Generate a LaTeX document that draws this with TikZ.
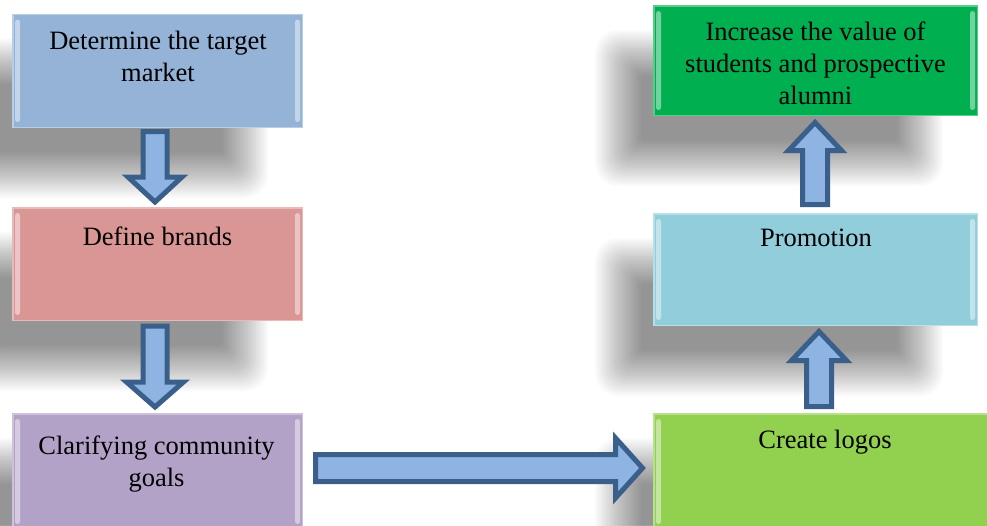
\documentclass[tikz,border=0pt]{standalone}
\usepackage{fontspec}
\setmainfont{Liberation Serif}
\usetikzlibrary{calc}
\pgfdeclarelayer{shadowlayer}
\pgfsetlayers{shadowlayer,main}
\definecolor{cBlue}{HTML}{95B3D7}
\definecolor{cRed}{HTML}{D99694}
\definecolor{cPurple}{HTML}{B3A2C7}
\definecolor{cGreen}{HTML}{00B050}
\definecolor{cAqua}{HTML}{92CDDC}
\definecolor{cLime}{HTML}{92D050}
\definecolor{arrowfill}{HTML}{8EB4E3}
\definecolor{arrowline}{HTML}{3A5F8B}
\tikzset{
  box/.style={draw=none, rectangle, anchor=north west, inner sep=0pt, outer sep=0pt},
  boxtext/.style={anchor=north, align=center, inner sep=0pt, outer sep=0pt, text=black,
    font=\fontsize{26.5}{32}\selectfont},
  barrow/.style={fill=arrowfill, draw=arrowline, line width=5pt, line join=miter, miter limit=10},
  bevelstrip/.style={fill=white, fill opacity=0.45, draw=none, rounded corners=2.5pt},
  rim/.style={draw=white, draw opacity=0.35, line width=1.5pt},
}
\newcommand{\softshadow}[1]{%
  \begin{pgfonlayer}{shadowlayer}
  \foreach \k in {0,...,23}{
    \pgfmathsetmacro{\dd}{23-2*\k}
    \pgfmathsetmacro{\rr}{max(3,12+0.5*\dd)}
    \fill[black, fill opacity=0.019, rounded corners=\rr pt]
      ($(#1.north west)+(-35-\dd,48-\dd)$) rectangle ($(#1.south east)+(-58+\dd,47+\dd)$);
  }
  \end{pgfonlayer}}
\newcommand{\bevel}[1]{%
  \fill[bevelstrip] ($(#1.north west)+(3,6)$) rectangle ($(#1.south west)+(8,-6)$);
  \fill[bevelstrip] ($(#1.north east)+(-8,6)$) rectangle ($(#1.south east)+(-3,-6)$);
  \draw[rim] ($(#1.north west)+(0.75,0.75)$) rectangle ($(#1.south east)+(-0.75,-0.75)$);}
% vertical block arrow: start, tip, shaft half width, head half width, head length (+ down, - up)
\newcommand{\varrow}[5]{%
  \pgfmathsetmacro{\hl}{-1*(#5)}
  \draw[barrow] ($(#1)+(-#3,0)$) -- ($(#2)+(-#3,\hl)$) -- ($(#2)+(-#4,\hl)$) -- (#2)
    -- ($(#2)+(#4,\hl)$) -- ($(#2)+(#3,\hl)$) -- ($(#1)+(#3,0)$) -- cycle;}
% horizontal block arrow pointing right
\newcommand{\harrow}[5]{%
  \draw[barrow] ($(#1)+(0,-#3)$) -- ($(#2)+(-#5,-#3)$) -- ($(#2)+(-#5,-#4)$) -- (#2)
    -- ($(#2)+(-#5,#4)$) -- ($(#2)+(-#5,#3)$) -- ($(#1)+(0,#3)$) -- cycle;}
\begin{document}
\begin{tikzpicture}[x=1pt,y=-1pt]
  \begin{pgfonlayer}{shadowlayer}
    \fill[white] (0,0) rectangle (987,525);
  \end{pgfonlayer}
  \useasboundingbox (0,0) rectangle (987,525);

  % boxes
  \node[box, fill=cBlue,   minimum width=291pt, minimum height=114.5pt] (b1) at (12,13.5) {};
  \node[box, fill=cRed,    minimum width=291pt, minimum height=114pt]   (b2) at (12,207) {};
  \node[box, fill=cPurple, minimum width=291pt, minimum height=117pt]   (b3) at (12,413) {};
  \node[box, fill=cGreen,  minimum width=325pt, minimum height=111pt]   (g)  at (653,5) {};
  \node[box, fill=cAqua,   minimum width=325pt, minimum height=113pt]   (p)  at (653,213) {};
  \node[box, fill=cLime,   minimum width=344pt, minimum height=117pt]   (c)  at (653,413) {};

  \foreach \n in {b1,b2,b3,g,p,c}{\softshadow{\n}\bevel{\n}}

  % texts
  \node[boxtext] (t1) at ($(b1.north)+(0.5,14)$) {\strut Determine the target\\market};
  \node[boxtext] (t2) at ($(b2.north)+(0,15.6)$) {\strut Define brands};
  \node[boxtext] (t3) at ($(b3.north)+(-1,18.6)$) {\strut Clarifying community\\goals};
  \node[boxtext] (t4) at ($(g.north)+(0,12.6)$) {\strut Increase the value of\\students and prospective\\alumni};
  \node[boxtext] (t5) at ($(p.north)+(0.5,11.3)$) {\strut Promotion};
  \node[boxtext] (t6) at ($(c.north)+(0,12.6)$) {\strut Create logos};

  % arrow end points
  \coordinate (d1s) at ($(b1.south)+(-2.5,3.5)$);
  \coordinate (d1e) at ($(b2.north)+(-2.5,-5)$);
  \coordinate (d2s) at ($(b2.south)+(-2.5,5)$);
  \coordinate (d2e) at ($(b3.north)+(-2.5,-6)$);
  \coordinate (hs)  at ($(b3.north east)+(12.5,55)$);
  \coordinate (he)  at ($(c.north west)+(-10.5,55)$);
  \coordinate (u2s) at ($(c.north)+(-6,-6.5)$);
  \coordinate (u2e) at ($(p.south)+(3.5,5.5)$);
  \coordinate (u1s) at ($(p.north)+(-0.5,-8.5)$);
  \coordinate (u1e) at ($(g.south)+(-0.5,6.5)$);

  \varrow{d1s}{d1e}{12}{27}{25}
  \varrow{d2s}{d2e}{12}{28.5}{25}
  \harrow{hs}{he}{13.5}{30}{27}
  \varrow{u2s}{u2e}{12.5}{27.5}{-29}
  \varrow{u1s}{u1e}{12.5}{26.5}{-28}
\end{tikzpicture}
\end{document}
